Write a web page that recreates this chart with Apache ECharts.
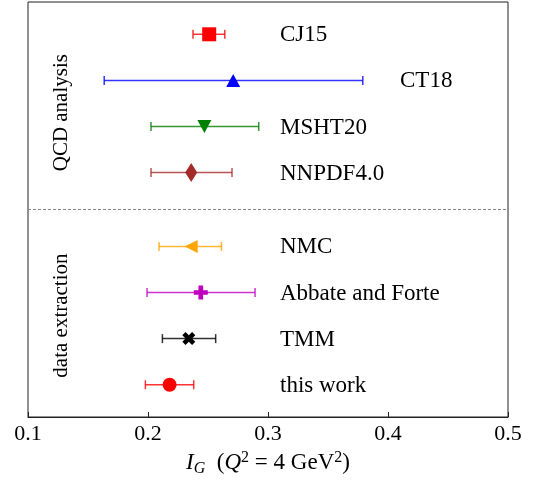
<!DOCTYPE html>
<html>
<head>
    <meta charset="utf-8">
    <title>I_G comparison</title>
    <script src="https://cdn.jsdelivr.net/npm/echarts@6/dist/echarts.min.js"></script>
</head>
<body style="margin:0">
<div id="main" style="width: 537px;height:482px;"></div>

<script type="text/javascript">
    // data
    var names = ['CJ15', 'CT18', 'MSHT20', 'NNPDF4.0', 'NMC', 'Abbate and Forte', 'TMM', 'this work'];
    var centers = [0.251, 0.271, 0.247, 0.236, 0.236, 0.244, 0.234, 0.218];
    var lows = [0.2375, 0.1635, 0.2025, 0.2025, 0.2092, 0.1992, 0.2120, 0.1978];
    var highs = [0.2640, 0.3790, 0.2923, 0.2700, 0.2612, 0.2892, 0.2564, 0.2381];
    // row of each entry on the (hidden) vertical axis
    var rows = [7.6, 6.6, 5.6, 4.6, 3, 2, 1, 0];
    var labelX = [0.31, 0.41, 0.31, 0.31, 0.31, 0.31, 0.31, 0.31];
    var xTicks = [0.1, 0.2, 0.3, 0.4, 0.5];
    var groupNames = ['QCD analysis', 'data extraction'];
    var groupX = [0.128, 0.128];
    var groupY = [5.9, 1.5];
    var dividerY = 3.8;

    // marker styles
    var colors = ['#ff0000', '#0000ff', '#008000', '#a52a2a', '#ffa500', '#bf00bf', '#000000', '#ff0000'];
    var plusPath = 'path://M-1,-3L1,-3L1,-1L3,-1L3,1L1,1L1,3L-1,3L-1,1L-3,1L-3,-1L-1,-1Z';
    var crossPath = 'path://M0,-1L1,-2L2,-1L1,0L2,1L1,2L0,1L-1,2L-2,1L-1,0L-2,-1L-1,-2Z';
    var symbols = ['rect', 'triangle', 'triangle', 'diamond', 'triangle', plusPath, crossPath, 'circle'];
    var symbolSizes = [14, [14, 13], [14, 13], [12, 19], [13, 13], 14, 13, 14];
    var symbolRotates = [0, 0, 180, 0, 90, 0, 0, 0];

    var serif = 'Liberation Serif';

    var barData = [], pointData = [], labelData = [];
    for (var i = 0; i < names.length; i++) {
        barData.push({value: [lows[i], highs[i], rows[i]], itemStyle: {color: colors[i]}});
        pointData.push({
            value: [centers[i], rows[i]],
            symbol: symbols[i],
            symbolSize: symbolSizes[i],
            symbolRotate: symbolRotates[i],
            itemStyle: {color: colors[i], opacity: 1}
        });
        labelData.push([labelX[i], rows[i], names[i]]);
    }
    var groupData = [];
    for (var j = 0; j < groupNames.length; j++) {
        groupData.push([groupX[j], groupY[j], groupNames[j]]);
    }

    var myChart = echarts.init(document.getElementById('main'));

    var option = {
        animation: false,
        grid: {
            left: 28, right: 29, top: 2, bottom: 65,
            show: true, borderColor: '#222', borderWidth: 1
        },
        xAxis: {
            type: 'value',
            min: xTicks[0],
            max: xTicks[xTicks.length - 1],
            interval: 0.1,
            axisLine: {show: true, onZero: false, lineStyle: {color: '#222', width: 1}},
            axisTick: {show: true, inside: true, length: 5, lineStyle: {color: '#222'}},
            splitLine: {show: false},
            axisLabel: {
                color: '#000', fontFamily: serif, fontSize: 22, margin: 6,
                formatter: function (v) { return v.toFixed(1); }
            },
            name: '{i|I}{sub|G}{n|  (}{i|Q}{sup|2}{n| = 4 GeV}{sup|2}{n|)}',
            nameLocation: 'middle',
            nameGap: 32,
            nameTextStyle: {
                rich: {
                    n: {fontFamily: serif, fontSize: 23, color: '#000', lineHeight: 27},
                    i: {fontFamily: serif, fontSize: 23, fontStyle: 'italic', color: '#000', lineHeight: 27},
                    sub: {fontFamily: serif, fontSize: 16, fontStyle: 'italic', color: '#000',
                          verticalAlign: 'bottom', lineHeight: 16},
                    sup: {fontFamily: serif, fontSize: 16, color: '#000',
                          verticalAlign: 'top', lineHeight: 16}
                }
            }
        },
        yAxis: {
            type: 'value',
            min: -0.7,
            max: 8.3,
            show: false
        },
        series: [
            {
                type: 'custom',
                name: 'errors',
                data: barData,
                renderItem: function (params, api) {
                    var y = api.value(2);
                    var a = api.coord([api.value(0), y]);
                    var b = api.coord([api.value(1), y]);
                    var cap = 4.5;
                    var style = {stroke: api.visual('color'), lineWidth: 1.5, opacity: 0.8};
                    return {
                        type: 'group',
                        children: [
                            {type: 'line', shape: {x1: a[0], y1: a[1], x2: b[0], y2: b[1]}, style: style},
                            {type: 'line', shape: {x1: a[0], y1: a[1] - cap, x2: a[0], y2: a[1] + cap}, style: style},
                            {type: 'line', shape: {x1: b[0], y1: b[1] - cap, x2: b[0], y2: b[1] + cap}, style: style}
                        ]
                    };
                },
                markLine: {
                    silent: true,
                    symbol: 'none',
                    label: {show: false},
                    lineStyle: {color: '#888', type: [3, 2], width: 1},
                    data: [{yAxis: dividerY}]
                },
                z: 2
            },
            {
                type: 'scatter',
                name: 'points',
                data: pointData,
                z: 3
            },
            {
                type: 'custom',
                name: 'labels',
                data: labelData,
                renderItem: function (params, api) {
                    var p = api.coord([api.value(0), api.value(1)]);
                    return {
                        type: 'text',
                        x: p[0], y: p[1] + 1,
                        style: {
                            text: labelData[params.dataIndex][2],
                            fontFamily: serif, fontSize: 23, fill: '#000',
                            align: 'left', verticalAlign: 'middle'
                        }
                    };
                }
            },
            {
                type: 'custom',
                name: 'groups',
                data: groupData,
                renderItem: function (params, api) {
                    var p = api.coord([api.value(0), api.value(1)]);
                    return {
                        type: 'text',
                        x: p[0], y: p[1],
                        rotation: Math.PI / 2,
                        style: {
                            text: groupData[params.dataIndex][2],
                            fontFamily: serif, fontSize: 21, fill: '#000',
                            align: 'center', verticalAlign: 'middle'
                        }
                    };
                }
            }
        ]
    };

    myChart.setOption(option);
</script>
</body>
</html>
